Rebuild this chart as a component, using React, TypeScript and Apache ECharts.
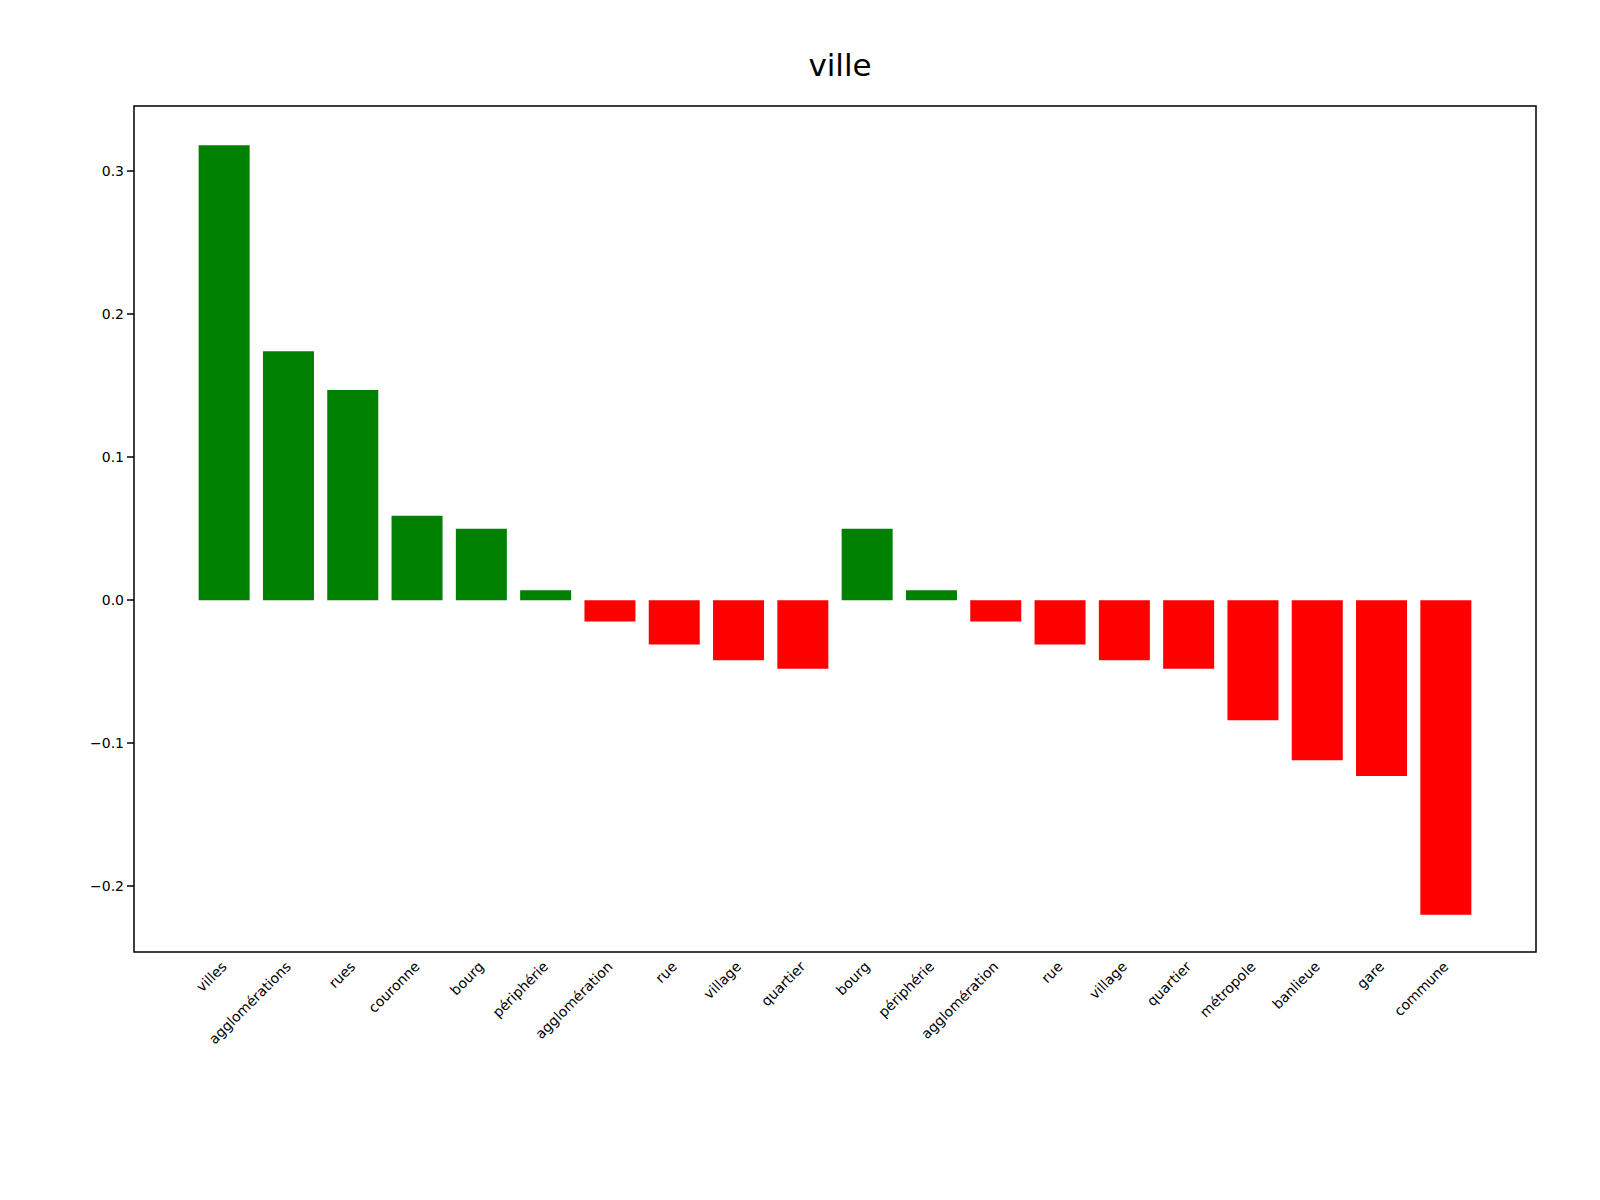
import React, { useEffect, useRef } from "react";
import * as echarts from "echarts";

const categories = [
  "villes", "agglomérations", "rues", "couronne", "bourg", "périphérie",
  "agglomération", "rue", "village", "quartier", "bourg", "périphérie",
  "agglomération", "rue", "village", "quartier", "métropole", "banlieue",
  "gare", "commune",
];
const values = [
  0.318, 0.174, 0.147, 0.059, 0.05, 0.007, -0.015, -0.031, -0.042, -0.048,
  0.05, 0.007, -0.015, -0.031, -0.042, -0.048, -0.084, -0.112, -0.123, -0.22,
];
const yTicks = [-0.2, -0.1, 0, 0.1, 0.2, 0.3];

const FONT = "DejaVu Sans";

const App: React.FC = () => {
  const chartRef = useRef<HTMLDivElement>(null);

  useEffect(() => {
    if (!chartRef.current) return;
    const chart = echarts.init(chartRef.current, null, { renderer: "svg" });

    const option = {
      animation: false,
      backgroundColor: "#fff",
      title: {
        text: "ville",
        left: 827,
        top: 36,
        textAlign: "center",
        textStyle: { fontFamily: FONT, fontSize: 31, fontWeight: "normal", color: "#000" },
      },
      grid: { left: 184, width: 1286, top: 98, height: 846 },
      xAxis: {
        type: "category",
        data: categories,
        axisLine: { show: false },
        axisTick: { alignWithLabel: true, length: 7, lineStyle: { color: "#000", width: 1.5 } },
        axisLabel: {
          rotate: 45,
          interval: 0,
          fontFamily: FONT,
          fontSize: 14,
          color: "#000",
          margin: 12,
        },
      },
      yAxis: {
        type: "value",
        min: -0.246,
        max: 0.3455,
        offset: 58,
        splitLine: { show: false },
        axisLine: { show: false },
        axisTick: { show: true, customValues: yTicks, length: 7, lineStyle: { color: "#000", width: 1.5 } },
        axisLabel: {
          customValues: yTicks,
          fontFamily: FONT,
          fontSize: 14,
          color: "#000",
          margin: 10,
          formatter: (v: number) => (v < 0 ? "\u2212" : "") + Math.abs(v).toFixed(1),
        },
      },
      graphic: [
        {
          type: "rect",
          shape: { x: 126, y: 98, width: 1402, height: 846 },
          style: { fill: "none", stroke: "#000", lineWidth: 1.5 },
          z: 100,
        },
      ],
      series: [
        {
          type: "bar",
          barWidth: 51,
          data: values.map((v) => ({
            value: v,
            itemStyle: { color: v >= 0 ? "#008000" : "#ff0000" },
          })),
        },
      ],
    };

    chart.setOption(option);
    return () => chart.dispose();
  }, []);

  return <div ref={chartRef} style={{ width: 1584, height: 1160 }} />;
};

export default App;
